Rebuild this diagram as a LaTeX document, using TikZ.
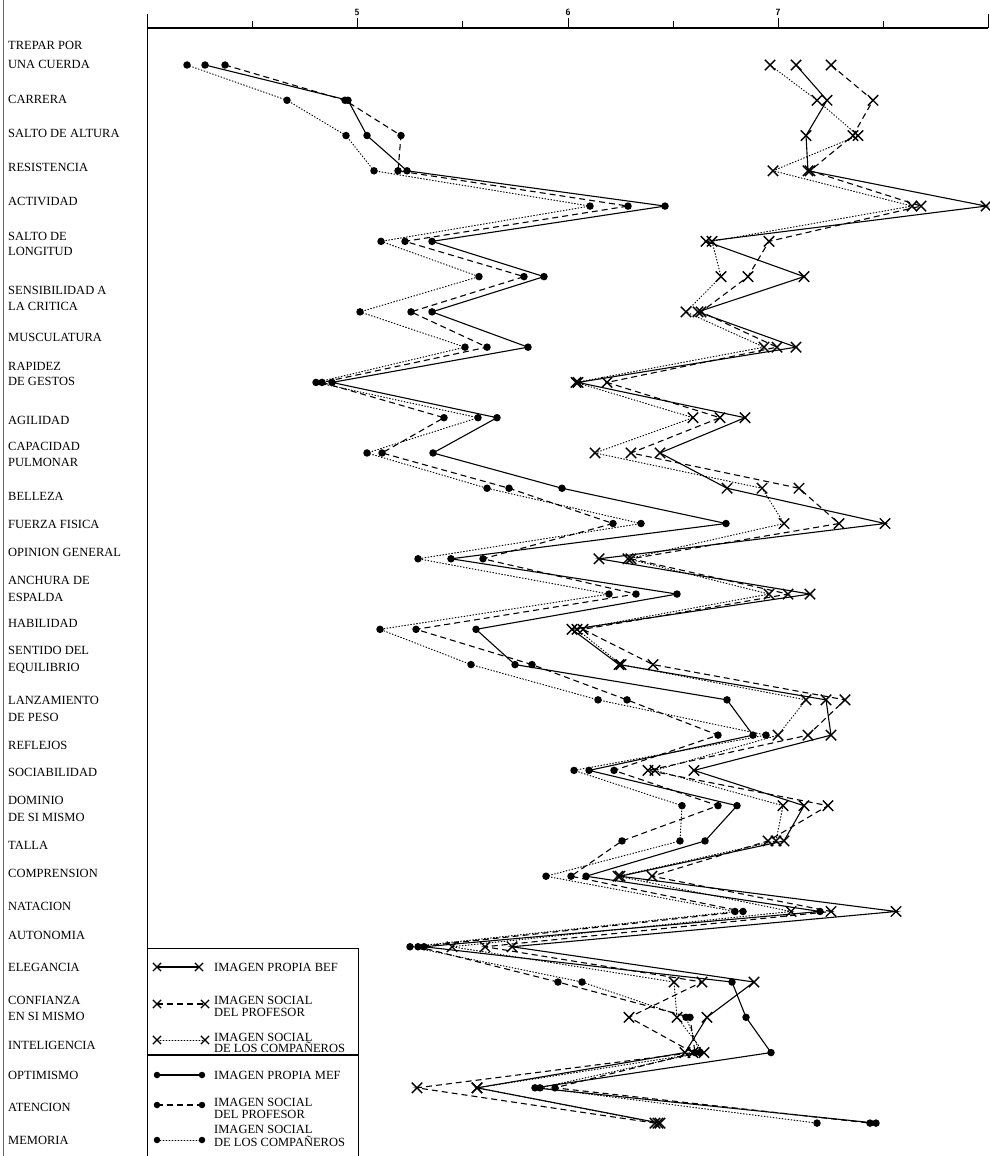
\documentclass[tikz,border=0pt]{standalone}
\usepackage{fontspec}
\setmainfont{Liberation Serif}
\usetikzlibrary{shapes.misc}
\begin{document}
\begin{tikzpicture}[x=1pt,y=-1pt,
  xmark/.style={draw,cross out,minimum size=9pt,inner sep=0pt,line width=1.4pt},
  dmark/.style={fill,circle,minimum size=7.5pt,inner sep=0pt},
  lsolid/.style={line width=1.1pt},
  ldash/.style={line width=1.1pt,dash pattern=on 6pt off 4pt},
  ldot/.style={line width=1pt,dash pattern=on 0.8pt off 2.2pt,line cap=round},
  rowlab/.style={anchor=base west,inner sep=0pt,font=\fontsize{12.5}{14}\selectfont},
  leglab/.style={anchor=base west,inner sep=0pt,font=\fontsize{12.5}{14}\selectfont},
  axnum/.style={font=\sffamily\bfseries\fontsize{9}{10}\selectfont,inner sep=0pt}
]
\fill[white] (0,0) rectangle (990,1156);
\useasboundingbox (0,0) rectangle (990,1156);

% frame and axis
\draw[line width=0.5pt,black!60] (3,0) -- (3,1156);
\draw[line width=1.1pt] (147,28) -- (988,28);
\draw[line width=1pt] (147,20) -- (147,1156);
\foreach \t/\h in {147/14,252/7,357/10,462/7,568/10,673/7,778/10,883/7,988/14}
  \draw[line width=1pt] (\t,28) -- (\t,28-\h);
\node[axnum] (ax5) at (357,12) {5};
\node[axnum] (ax6) at (568,12) {6};
\node[axnum] (ax7) at (778,12) {7};

% row labels
\foreach \yy/\txt [count=\i] in {45/TREPAR POR,64/UNA CUERDA,99/CARRERA,133/SALTO DE ALTURA,
  167/RESISTENCIA,201/ACTIVIDAD,236/SALTO DE,251/LONGITUD,290/SENSIBILIDAD A,306/LA CRITICA,
  337/MUSCULATURA,366/RAPIDEZ,381/DE GESTOS,420/AGILIDAD,446/CAPACIDAD,462/PULMONAR,
  496/BELLEZA,524/FUERZA FISICA,552/OPINION GENERAL,580/ANCHURA DE,597/ESPALDA,623/HABILIDAD,
  650/SENTIDO DEL,667/EQUILIBRIO,700/LANZAMIENTO,717/DE PESO,745/REFLEJOS,772/SOCIABILIDAD,
  800/DOMINIO,817/DE SI MISMO,845/TALLA,873/COMPRENSION,906/NATACION,935/AUTONOMIA,
  967/ELEGANCIA,1000/CONFIANZA,1016/EN SI MISMO,1045/INTELIGENCIA,1075/OPTIMISMO,
  1107/ATENCION,1140/MEMORIA}
  \node[rowlab] (lab-\i) at (8,{\yy+4.3}) {\txt};

% data (pixel x for rows k = 0..30)
\def\dBS{796,827,806,808,986,706,804,698,796,578,745,660,727,885,599,810,572,619,826,831,694,804,784,620,896,512,754,707,685,477,660}
\def\dBD{831,873,853,810,921,769,748,701,777,607,720,631,799,839,631,788,583,653,845,808,648,828,768,652,831,485,702,629,693,417,655}
\def\dBT{770,817,858,773,912,712,721,686,764,576,693,595,762,784,628,769,577,621,806,778,655,783,776,618,791,452,674,677,704,477,658}
\def\dMS{205,348,367,407,665,432,544,432,528,332,497,433,562,726,451,677,476,515,727,753,589,737,705,586,820,424,732,746,771,535,876}
\def\dMD{225,345,401,398,628,405,524,411,487,322,444,382,509,613,483,636,416,532,627,718,614,718,622,571,743,418,558,690,695,555,870}
\def\dMT{187,287,346,374,590,381,479,360,465,316,478,367,487,641,418,609,380,471,598,766,574,682,680,546,735,410,582,686,700,540,817}

\foreach \v [count=\i from 0] in \dBS {\coordinate (bs-\i) at (\v,{65+35.27*\i});}
\foreach \v [count=\i from 0] in \dBD {\coordinate (bd-\i) at (\v,{65+35.27*\i});}
\foreach \v [count=\i from 0] in \dBT {\coordinate (bt-\i) at (\v,{65+35.27*\i});}
\foreach \v [count=\i from 0] in \dMS {\coordinate (ms-\i) at (\v,{65+35.27*\i});}
\foreach \v [count=\i from 0] in \dMD {\coordinate (md-\i) at (\v,{65+35.27*\i});}
\foreach \v [count=\i from 0] in \dMT {\coordinate (mt-\i) at (\v,{65+35.27*\i});}

\draw[lsolid] (bs-0) \foreach \i in {1,...,30} {-- (bs-\i)};
\draw[ldash]  (bd-0) \foreach \i in {1,...,30} {-- (bd-\i)};
\draw[ldot]   (bt-0) \foreach \i in {1,...,30} {-- (bt-\i)};
\draw[lsolid] (ms-0) \foreach \i in {1,...,30} {-- (ms-\i)};
\draw[ldash]  (md-0) \foreach \i in {1,...,30} {-- (md-\i)};
\draw[ldot]   (mt-0) \foreach \i in {1,...,30} {-- (mt-\i)};

\foreach \i in {0,...,30} {
  \node[xmark] (bsm-\i) at (bs-\i) {};
  \node[xmark] (bdm-\i) at (bd-\i) {};
  \node[xmark] (btm-\i) at (bt-\i) {};
  \node[dmark] (msm-\i) at (ms-\i) {};
  \node[dmark] (mdm-\i) at (md-\i) {};
  \node[dmark] (mtm-\i) at (mt-\i) {};
}

% legend
\draw[line width=1pt] (147,948) -- (358,948) -- (358,1156);
\draw[line width=1.4pt] (147,1055) -- (358,1055);
\coordinate (l1a) at (157,967);  \coordinate (l1b) at (199,967);
\coordinate (l2a) at (157,1004); \coordinate (l2b) at (205,1004);
\coordinate (l3a) at (157,1040); \coordinate (l3b) at (205,1040);
\coordinate (l4a) at (157,1075); \coordinate (l4b) at (202,1075);
\coordinate (l5a) at (157,1105); \coordinate (l5b) at (202,1105);
\coordinate (l6a) at (157,1140); \coordinate (l6b) at (202,1140);
\draw[lsolid] (l1a) -- (l1b);
\draw[ldash]  (l2a) -- (l2b);
\draw[ldot]   (l3a) -- (l3b);
\draw[lsolid] (l4a) -- (l4b);
\draw[ldash]  (l5a) -- (l5b);
\draw[ldot]   (l6a) -- (l6b);
\foreach \n in {l1a,l1b,l2a,l2b,l3a,l3b} \node[xmark,minimum size=7pt,line width=1.2pt] (m-\n) at (\n) {};
\foreach \n in {l4a,l4b,l5a,l5b,l6a,l6b} \node[dmark,minimum size=6.5pt] (m-\n) at (\n) {};
\node[leglab] (t1)  at (214,971.3)  {IMAGEN PROPIA BEF};
\node[leglab] (t2a) at (214,1004.3) {IMAGEN SOCIAL};
\node[leglab] (t2b) at (214,1016.3) {DEL PROFESOR};
\node[leglab] (t3a) at (214,1041.3) {IMAGEN SOCIAL};
\node[leglab] (t3b) at (214,1052.3) {DE LOS COMPAÑEROS};
\node[leglab] (t4)  at (214,1079.3) {IMAGEN PROPIA MEF};
\node[leglab] (t5a) at (214,1106.3) {IMAGEN SOCIAL};
\node[leglab] (t5b) at (214,1118.3) {DEL PROFESOR};
\node[leglab] (t6a) at (214,1133.3) {IMAGEN SOCIAL};
\node[leglab] (t6b) at (214,1146.3) {DE LOS COMPAÑEROS};
\end{tikzpicture}
\end{document}
